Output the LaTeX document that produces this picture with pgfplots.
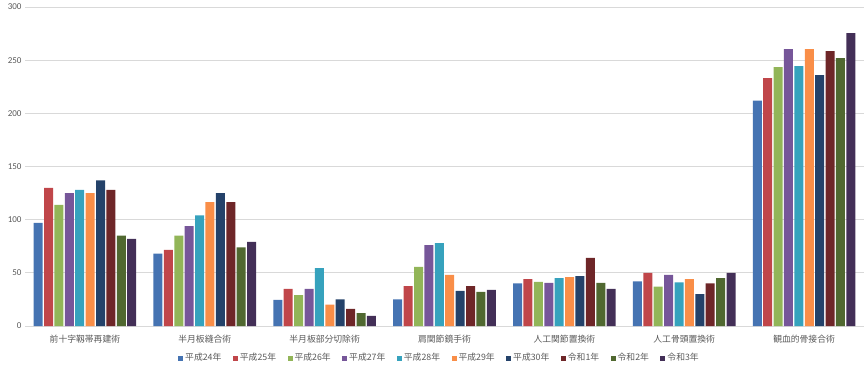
\documentclass[border=0pt]{standalone}
\usepackage{fontspec}
\setmainfont{Carlito}
\newfontfamily\cjk{Noto Sans CJK JP}
\usepackage{pgfplots}
\pgfplotsset{compat=1.18}
\definecolor{c1}{HTML}{4573B2}
\definecolor{c2}{HTML}{C0464A}
\definecolor{c3}{HTML}{92B558}
\definecolor{c4}{HTML}{765699}
\definecolor{c5}{HTML}{36A2BD}
\definecolor{c6}{HTML}{F98E48}
\definecolor{c7}{HTML}{24426A}
\definecolor{c8}{HTML}{6E2628}
\definecolor{c9}{HTML}{506830}
\definecolor{c10}{HTML}{432F57}
\definecolor{gridgray}{HTML}{D9D9D9}
\definecolor{tickgray}{HTML}{595959}
\begin{document}
\begin{tikzpicture}
\useasboundingbox (0,0) rectangle (864pt,370pt);
\begin{axis}[
  at={(25pt,44pt)}, anchor=south west,
  scale only axis, width=839pt, height=319pt,
  xmin=-0.5, xmax=6.5, ymin=0, ymax=300,
  ytick={0,50,...,300},
  xtick={0,...,6},
  xticklabels={前十字靱帯再建術,半月板縫合術,半月板部分切除術,肩関節鏡手術,人工関節置換術,人工骨頭置換術,観血的骨接合術},
  ymajorgrids, grid style={draw=gridgray, line width=0.8pt},
  axis line style={draw=none}, tick style={draw=none},
  ybar=1.4pt, bar width=9pt,
  /pgf/number format/assume math mode=true,
  yticklabel style={font=\fontsize{9}{9}\selectfont, text=tickgray},
  xticklabel style={font=\cjk\fontsize{8.8}{9}\selectfont, text=tickgray, yshift=-1pt},
  legend columns=10,
  legend style={at={(0.5,0)}, anchor=center, yshift=-32pt, xshift=-5pt, draw=none, fill=none,
    font=\cjk\fontsize{8.8}{9}\selectfont, text=tickgray,
    /tikz/every even column/.append style={column sep=9.5pt}},
  legend image code/.code={\fill[#1] (0pt,-2.5pt) rectangle (5pt,2.5pt);},
]
\addplot[fill=c1, draw=none] coordinates {(0,97) (1,68) (2,24.5) (3,25) (4,40) (5,42) (6,212)};
\addplot[fill=c2, draw=none] coordinates {(0,130) (1,71.5) (2,35) (3,37.5) (4,44) (5,50) (6,233)};
\addplot[fill=c3, draw=none] coordinates {(0,114) (1,85) (2,29) (3,55.5) (4,41.5) (5,37) (6,243.5)};
\addplot[fill=c4, draw=none] coordinates {(0,125) (1,94) (2,35) (3,76) (4,40.5) (5,48) (6,260.5)};
\addplot[fill=c5, draw=none] coordinates {(0,128) (1,104) (2,54.5) (3,78) (4,45) (5,41) (6,244.5)};
\addplot[fill=c6, draw=none] coordinates {(0,125) (1,116.5) (2,20) (3,48) (4,46) (5,44) (6,260.5)};
\addplot[fill=c7, draw=none] coordinates {(0,137) (1,125) (2,25) (3,33) (4,47) (5,30) (6,236)};
\addplot[fill=c8, draw=none] coordinates {(0,128) (1,116.5) (2,16) (3,37.5) (4,64) (5,40) (6,258.5)};
\addplot[fill=c9, draw=none] coordinates {(0,85) (1,74) (2,12) (3,32) (4,40.5) (5,45) (6,252)};
\addplot[fill=c10, draw=none] coordinates {(0,82) (1,79) (2,9.5) (3,34) (4,35) (5,50) (6,275.5)};
\legend{平成24年,平成25年,平成26年,平成27年,平成28年,平成29年,平成30年,令和1年,令和2年,令和3年}
\end{axis}
\end{tikzpicture}
\end{document}
